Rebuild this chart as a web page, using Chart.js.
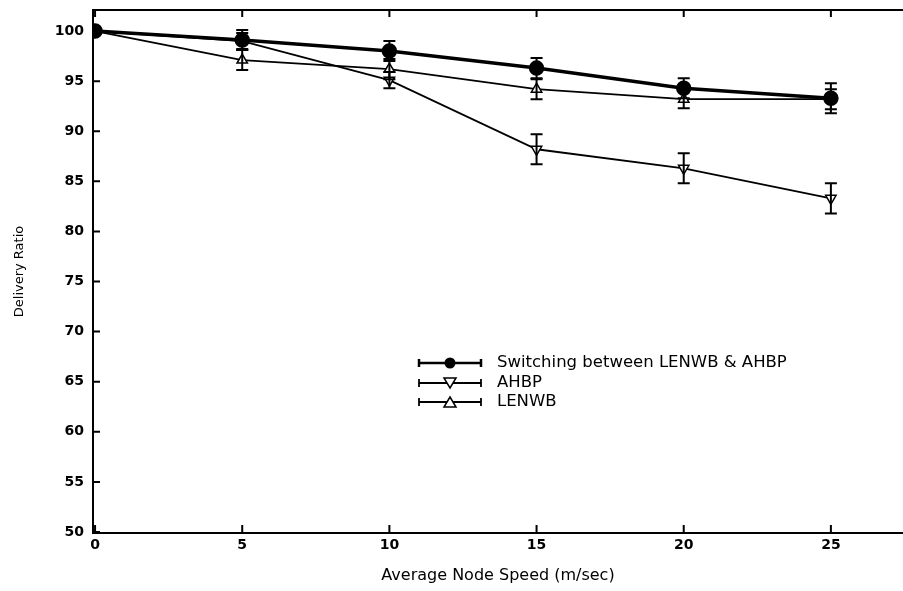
<!DOCTYPE html>
<html lang="en">
<head>
<meta charset="UTF-8">
<title>Delivery Ratio vs Average Node Speed</title>
<script src="https://cdn.jsdelivr.net/npm/chart.js"></script>
<style>
  body { margin: 0; background: #fff; }
  #wrap { width: 903px; height: 591px; }
</style>
</head>
<body>
<div id="wrap"><canvas id="myChart" width="903" height="591"></canvas></div>
<script>
// Data
const speeds = [0, 5, 10, 15, 20, 25];
const xTicks = [0, 5, 10, 15, 20, 25];
const yTicks = [50, 55, 60, 65, 70, 75, 80, 85, 90, 95, 100];
const seriesNames = ['Switching between LENWB & AHBP', 'AHBP', 'LENWB'];

const switchingVals = [100, 99.1, 98.0, 96.3, 94.3, 93.3];
const switchingErr  = [0, 1.0, 1.0, 1.0, 1.0, 1.5];
const ahbpVals = [100, 99.0, 95.1, 88.2, 86.3, 83.3];
const ahbpErr  = [0, 0.8, 0.8, 1.5, 1.5, 1.5];
const lenwbVals = [100, 97.1, 96.2, 94.2, 93.2, 93.2];
const lenwbErr  = [0, 1.0, 1.0, 1.0, 0.9, 1.0];

const errors = [switchingErr, ahbpErr, lenwbErr];

const font = "'DejaVu Sans', Arial, sans-serif";

function pts(vals) {
  return speeds.map((s, i) => ({ x: s, y: vals[i] }));
}

// error bars, drawn through the scales
const errorBars = {
  id: 'errorBars',
  afterDatasetsDraw(chart) {
    const ctx = chart.ctx;
    const y = chart.scales.y;
    ctx.save();
    ctx.strokeStyle = '#000';
    ctx.lineWidth = 2;
    chart.data.datasets.forEach((ds, di) => {
      const meta = chart.getDatasetMeta(di);
      meta.data.forEach((el, i) => {
        const e = errors[di][i];
        if (!e) return;
        const v = ds.data[i].y;
        const top = y.getPixelForValue(v + e);
        const bot = y.getPixelForValue(v - e);
        ctx.beginPath();
        ctx.moveTo(el.x, top); ctx.lineTo(el.x, bot);
        ctx.moveTo(el.x - 6, top); ctx.lineTo(el.x + 6, top);
        ctx.moveTo(el.x - 6, bot); ctx.lineTo(el.x + 6, bot);
        ctx.stroke();
      });
    });
    ctx.restore();
  }
};

// inward ticks, top frame line and the legend box inside the plot
const frame = {
  id: 'frame',
  afterDraw(chart) {
    const ctx = chart.ctx;
    const { left, right, top, bottom } = chart.chartArea;
    const xs = chart.scales.x, ys = chart.scales.y;
    ctx.save();
    ctx.strokeStyle = '#000';
    ctx.lineWidth = 2;
    ctx.beginPath();
    ctx.moveTo(left, top); ctx.lineTo(right, top);
    xTicks.forEach(t => {
      const px = xs.getPixelForValue(t);
      ctx.moveTo(px, bottom); ctx.lineTo(px, bottom - 8);
      ctx.moveTo(px, top); ctx.lineTo(px, top + 7);
    });
    yTicks.forEach(t => {
      const py = ys.getPixelForValue(t);
      ctx.moveTo(left, py); ctx.lineTo(left + 7, py);
    });
    ctx.stroke();

    // legend
    const lx = 419, lw = 62, tx = 497;
    const rows = [363, 383, 402];
    chart.data.datasets.forEach((ds, i) => {
      const yy = rows[i];
      ctx.strokeStyle = '#000';
      ctx.lineWidth = i === 0 ? 2.5 : 1.8;
      ctx.beginPath();
      ctx.moveTo(lx, yy); ctx.lineTo(lx + lw, yy);
      ctx.moveTo(lx, yy - 4); ctx.lineTo(lx, yy + 4);
      ctx.moveTo(lx + lw, yy - 4); ctx.lineTo(lx + lw, yy + 4);
      ctx.stroke();
      const cx = lx + lw / 2;
      ctx.lineWidth = 1.5;
      ctx.beginPath();
      if (ds.pointStyle === 'circle') {
        ctx.fillStyle = '#000';
        ctx.arc(cx, yy, 5.5, 0, Math.PI * 2);
        ctx.fill();
      } else if (ds.rotation === 180) {
        ctx.fillStyle = '#fff';
        ctx.moveTo(cx, yy + 5); ctx.lineTo(cx + 6, yy - 5); ctx.lineTo(cx - 6, yy - 5); ctx.closePath();
        ctx.fill(); ctx.stroke();
      } else {
        ctx.fillStyle = '#fff';
        ctx.moveTo(cx, yy - 5); ctx.lineTo(cx + 6, yy + 5); ctx.lineTo(cx - 6, yy + 5); ctx.closePath();
        ctx.fill(); ctx.stroke();
      }
      ctx.fillStyle = '#000';
      ctx.font = '16.5px ' + font;
      ctx.textBaseline = 'middle';
      ctx.fillText(seriesNames[i], tx, yy);
    });
    ctx.restore();
  }
};

const ctx = document.getElementById('myChart').getContext('2d');
new Chart(ctx, {
  type: 'line',
  data: {
    datasets: [
      {
        label: seriesNames[0],
        data: pts(switchingVals),
        borderColor: '#000',
        borderWidth: 3.5,
        pointStyle: 'circle',
        pointRadius: 6,
        pointBackgroundColor: '#000',
        pointBorderColor: '#000'
      },
      {
        label: seriesNames[1],
        data: pts(ahbpVals),
        borderColor: '#000',
        borderWidth: 1.8,
        pointStyle: 'triangle',
        rotation: 180,
        pointRadius: 6,
        pointBackgroundColor: '#fff',
        pointBorderColor: '#000',
        pointBorderWidth: 1.5
      },
      {
        label: seriesNames[2],
        data: pts(lenwbVals),
        borderColor: '#000',
        borderWidth: 1.8,
        pointStyle: 'triangle',
        pointRadius: 6,
        pointBackgroundColor: '#fff',
        pointBorderColor: '#000',
        pointBorderWidth: 1.5
      }
    ]
  },
  options: {
    responsive: false,
    animation: false,
    layout: { autoPadding: false, padding: { top: 10, right: 0, left: 0, bottom: 0 } },
    plugins: { legend: { display: false }, tooltip: { enabled: false } },
    elements: { line: { tension: 0 } },
    scales: {
      x: {
        type: 'linear',
        min: -0.07,
        max: 27.45,
        afterBuildTicks: s => { s.ticks = xTicks.map(v => ({ value: v })); },
        afterFit: s => { s.height = 58; s.paddingLeft = 0; s.paddingRight = 0; },
        grid: { display: false, drawTicks: false },
        border: { display: true, color: '#000', width: 2 },
        ticks: { color: '#000', padding: 4, font: { family: font, size: 14, weight: 'bold' } },
        title: { display: true, text: 'Average Node Speed (m/sec)', color: '#000', font: { family: font, size: 16 }, padding: { top: 4, bottom: 6 } }
      },
      y: {
        type: 'linear',
        min: 49.9,
        max: 102.1,
        afterBuildTicks: s => { s.ticks = yTicks.map(v => ({ value: v })); },
        afterFit: s => { s.width = 93; s.paddingTop = 0; s.paddingBottom = 0; },
        grid: { display: false, drawTicks: false },
        border: { display: true, color: '#000', width: 2 },
        ticks: { color: '#000', padding: 9, font: { family: font, size: 14, weight: 'bold' } },
        title: { display: true, text: 'Delivery Ratio', color: '#000', font: { family: font, size: 13 }, padding: { top: 12, bottom: 4 } }
      }
    }
  },
  plugins: [errorBars, frame]
});
</script>
</body>
</html>
